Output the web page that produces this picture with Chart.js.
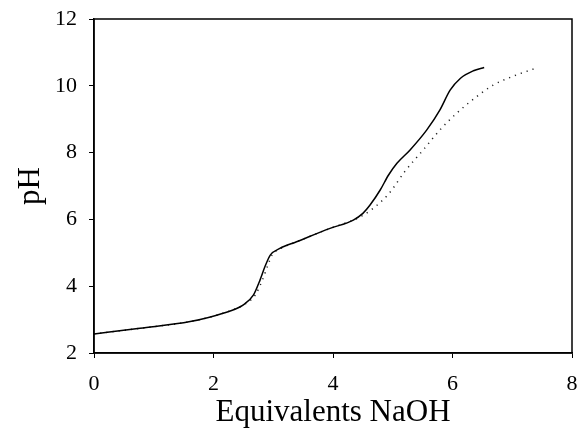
<!DOCTYPE html>
<html>
<head>
<meta charset="utf-8">
<script src="https://cdn.jsdelivr.net/npm/chart.js@4/dist/chart.umd.min.js"></script>
<style>
  html, body { margin: 0; padding: 0; background: #fff; }
  #wrap { width: 579px; height: 433px; }
</style>
</head>
<body>
<div id="wrap"><canvas id="myChart"></canvas></div>
<script>
// curva continua
const solidX  = [0, 0.77, 1.61, 2.16, 2.5, 2.67, 2.78, 2.86, 2.95, 3.11, 3.39, 3.95, 4.34, 4.5, 4.62, 4.79, 4.93, 5.07, 5.29, 5.57, 5.79, 5.96, 6.13, 6.35, 6.53];
const solidPH = [2.57, 2.74, 2.94, 3.19, 3.44, 3.74, 4.19, 4.58, 4.93, 5.13, 5.33, 5.73, 5.98, 6.18, 6.43, 6.88, 7.33, 7.68, 8.08, 8.68, 9.28, 9.87, 10.22, 10.45, 10.55];

// curva punteada
const dotX  = [0, 0.77, 1.61, 2.16, 2.5, 2.7, 2.82, 2.9, 2.98, 3.13, 3.39, 3.95, 4.34, 4.5, 4.65, 4.93, 5.2, 5.51, 5.79, 6.07, 6.4, 6.68, 7.02, 7.43];
const dotPH = [2.57, 2.74, 2.94, 3.19, 3.44, 3.74, 4.19, 4.58, 4.93, 5.13, 5.33, 5.73, 5.98, 6.12, 6.3, 6.76, 7.43, 8.08, 8.68, 9.18, 9.67, 10.02, 10.29, 10.55];

const xTicks = [0, 2, 4, 6, 8];
const yTicks = [2, 4, 6, 8, 10, 12];
const xTitle = 'Equivalents NaOH';
const yTitle = 'pH';

const toPoints = (xs, ys) => xs.map((x, i) => ({ x: x, y: ys[i] }));

// marco alrededor del area del grafico
const boxPlugin = {
  id: 'box',
  afterDraw(chart) {
    const a = chart.chartArea;
    const c = chart.ctx;
    c.save();
    c.strokeStyle = '#000';
    c.lineWidth = 1.5;
    c.strokeRect(a.left, a.top, a.right - a.left, a.bottom - a.top);
    c.restore();
  }
};

const font = { family: '"Liberation Serif", "Times New Roman", serif' };

var ctx = document.getElementById('myChart').getContext('2d');
var myChart = new Chart(ctx, {
  type: 'scatter',
  data: {
    datasets: [{
      label: 'solid',
      data: toPoints(solidX, solidPH),
      showLine: true,
      borderColor: '#000',
      borderWidth: 1.5,
      pointRadius: 0,
      cubicInterpolationMode: 'monotone'
    }, {
      label: 'dotted',
      data: toPoints(dotX, dotPH),
      showLine: true,
      borderColor: '#222',
      borderWidth: 1.5,
      borderDash: [1.2, 5],
      pointRadius: 0,
      cubicInterpolationMode: 'monotone'
    }]
  },
  options: {
    responsive: true,
    maintainAspectRatio: false,
    animation: false,
    layout: { padding: { top: 19, right: 7, left: 0, bottom: 0 } },
    plugins: { legend: { display: false }, tooltip: { enabled: false } },
    scales: {
      x: {
        type: 'linear',
        min: 0, max: 8,
        afterBuildTicks: s => { s.ticks = xTicks.map(v => ({ value: v })); },
        afterFit: s => { s.height = 80; s.paddingLeft = 0; s.paddingRight = 0; },
        grid: { drawOnChartArea: false, drawTicks: true, tickLength: 5, color: '#000' },
        border: { display: true, color: '#000', width: 1.5 },
        ticks: { color: '#000', padding: 13, font: Object.assign({ size: 22 }, font) },
        title: { display: true, text: xTitle, color: '#000', padding: { top: 0, bottom: 2 }, font: Object.assign({ size: 31 }, font) }
      },
      y: {
        type: 'linear',
        min: 2, max: 12,
        afterBuildTicks: s => { s.ticks = yTicks.map(v => ({ value: v })); },
        afterFit: s => { s.width = 94; s.paddingTop = 0; s.paddingBottom = 0; },
        grid: { drawOnChartArea: false, drawTicks: true, tickLength: 5, color: '#000' },
        border: { display: true, color: '#000', width: 1.5 },
        ticks: { color: '#000', padding: 12, font: Object.assign({ size: 22 }, font) },
        title: { display: true, text: yTitle, color: '#000', padding: { top: 12, bottom: 0 }, font: Object.assign({ size: 31 }, font) }
      }
    }
  },
  plugins: [boxPlugin]
});
</script>
</body>
</html>
